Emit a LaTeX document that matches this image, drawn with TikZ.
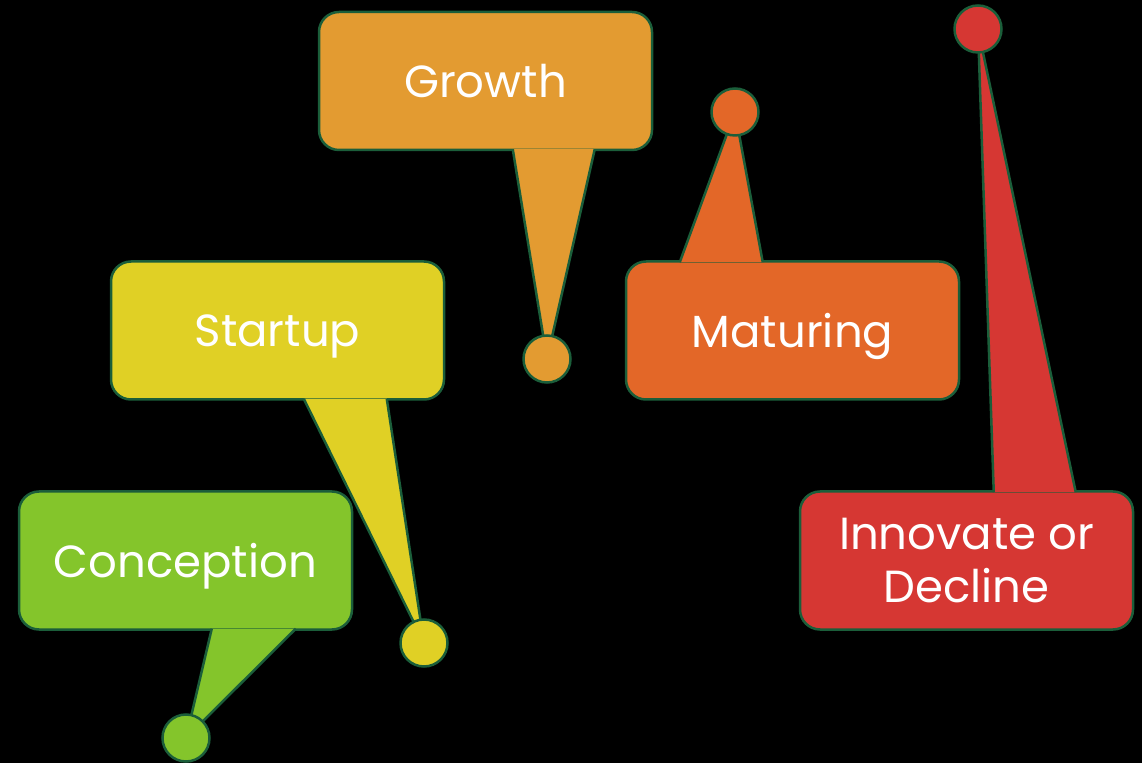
\documentclass[tikz,border=0pt]{standalone}
\usepackage{fontspec}
\setmainfont{Poppins}
\definecolor{edgegreen}{HTML}{1B5E3A}
\definecolor{conceptgreen}{HTML}{84C52B}
\definecolor{startyellow}{HTML}{E0D025}
\definecolor{growthorange}{HTML}{E39B31}
\definecolor{matureorange}{HTML}{E36728}
\definecolor{declinered}{HTML}{D63733}
\tikzset{
    stagebox/.style = {
        rectangle,
        rounded corners=20pt,
        draw=edgegreen,
        line width=2.5pt,
        fill=#1,
        text=white,
        align=center,
        inner sep=0pt,
        text depth=0pt,
        minimum width=333pt,
        minimum height=138pt,
        font=\fontsize{45}{53}\selectfont
    },
    stagedot/.style = {
        circle,
        draw=edgegreen,
        line width=2.5pt,
        fill=#1,
        inner sep=0pt,
        minimum size=47pt
    },
    pointer/.style = {
        fill=#1,
        draw=edgegreen,
        line width=2.5pt
    }
}

\begin{document}
\begin{tikzpicture}[x=1pt,y=1pt]
    \fill[black] (0,0) rectangle (1142,763);
    \useasboundingbox (0,0) rectangle (1142,763);

    % boxes
    \node [stagebox=conceptgreen] (con) at (185.5,202.5) {Conception};
    \node [stagebox=startyellow]  (sta) at (277.5,432.5) {Startup};
    \node [stagebox=growthorange] (gro) at (485.5,682)   {Growth};
    \node [stagebox=matureorange] (mat) at (792.5,432.5) {Maturing};
    \node [stagebox=declinered]   (inn) at (966.5,202.5) {Innovate or\\Decline};

    % pointers
    \path [pointer=conceptgreen] ([xshift=194pt,yshift=2pt]con.south west) -- (186,25) -- ([xshift=278pt,yshift=2pt]con.south west);
    \path [pointer=startyellow]  ([xshift=194pt,yshift=2pt]sta.south west) -- (424,120) -- ([xshift=277pt,yshift=2pt]sta.south west);
    \path [pointer=growthorange] ([xshift=195pt,yshift=2pt]gro.south west) -- (547,404) -- ([xshift=277pt,yshift=2pt]gro.south west);
    \path [pointer=matureorange] ([xshift=55pt,yshift=-2pt]mat.north west) -- (735,651) -- ([xshift=138pt,yshift=-2pt]mat.north west);
    \path [pointer=declinered]   ([xshift=195pt,yshift=-2pt]inn.north west) -- (978,734) -- ([xshift=277pt,yshift=-2pt]inn.north west);

    % dots
    \node [stagedot=conceptgreen] (condot) at (186,25)  {};
    \node [stagedot=startyellow]  (stadot) at (424,120) {};
    \node [stagedot=growthorange] (grodot) at (547,404) {};
    \node [stagedot=matureorange] (matdot) at (735,651) {};
    \node [stagedot=declinered]   (inndot) at (978,734) {};
\end{tikzpicture}
\end{document}
